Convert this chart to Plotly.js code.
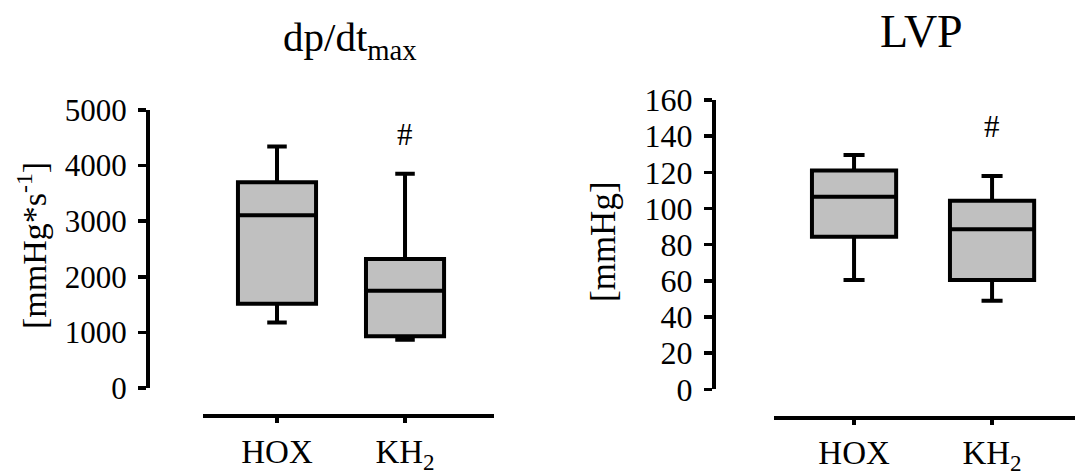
<!DOCTYPE html>
<html>
<head>
<meta charset="utf-8">
<script src="https://cdn.plot.ly/plotly-3.0.1.min.js"></script>
<style>html,body{margin:0;padding:0;background:#fff;}#chart{width:1076px;height:472px;}</style>
</head>
<body>
<div id="chart"></div>
<script>
// Data
var categories = ['HOX', 'KH2'];
var tickLabels = ['HOX', 'KH<sub>2</sub>'];

// dp/dt max [mmHg*s^-1]
var dpdtLower = [1180, 870];
var dpdtQ1 = [1515, 930];
var dpdtMedian = [3105, 1750];
var dpdtQ3 = [3700, 2320];
var dpdtUpper = [4345, 3855];

// LVP [mmHg]
var lvpLower = [60.4, 49];
var lvpQ1 = [84.4, 60.4];
var lvpMedian = [106.5, 88.5];
var lvpQ3 = [121, 104.3];
var lvpUpper = [129.6, 118];

var FONT = 'Liberation Serif';

function boxTrace(lo, q1, med, q3, hi, xa, ya) {
  return {
    type: 'box',
    x: categories,
    lowerfence: lo, q1: q1, median: med, q3: q3, upperfence: hi,
    xaxis: xa, yaxis: ya,
    width: 0.61,
    whiskerwidth: 0.25,
    fillcolor: '#c0c0c0',
    line: {color: '#000', width: 4},
    boxpoints: false,
    hoverinfo: 'skip',
    showlegend: false
  };
}

var data = [
  boxTrace(dpdtLower, dpdtQ1, dpdtMedian, dpdtQ3, dpdtUpper, 'x', 'y'),
  boxTrace(lvpLower, lvpQ1, lvpMedian, lvpQ3, lvpUpper, 'x2', 'y2')
];

function xax(domain, range, pos) {
  return {
    domain: domain, range: range, anchor: 'free', position: pos,
    type: 'category',
    tickvals: categories, ticktext: tickLabels,
    showline: true, linecolor: '#000', linewidth: 4,
    ticks: 'outside', ticklen: 5, tickwidth: 4, tickcolor: '#000',
    ticklabelstandoff: 0,
    tickfont: {family: FONT, size: 33, color: '#000'},
    showgrid: false, zeroline: false, fixedrange: true
  };
}
function yax(domain, range, dtick, pos, fs) {
  return {
    domain: domain, range: range, anchor: 'free', position: pos,
    dtick: dtick, tick0: 0,
    showline: true, linecolor: '#000', linewidth: 4,
    ticks: 'outside', ticklen: 8, tickwidth: 3.5, tickcolor: '#000',
    ticklabelstandoff: 5,
    tickfont: {family: FONT, size: fs, color: '#000'},
    showgrid: false, zeroline: false, fixedrange: true
  };
}

var layout = {
  width: 1076, height: 472,
  margin: {l: 0, r: 0, t: 0, b: 0},
  paper_bgcolor: '#fff', plot_bgcolor: 'rgba(0,0,0,0)',
  showlegend: false,
  font: {family: FONT, color: '#000'},
  xaxis: xax([203/1076, 494/1076], [-0.578, 1.695], 0.1186),
  yaxis: yax([84/472, 362/472], [0, 5000], 1000, 148/1076, 31),
  xaxis2: xax([774/1076, 1075/1076], [-0.58, 1.601], 0.115),
  yaxis2: yax([82.7/472, 372/472], [0, 160], 20, 714/1076, 32),
  annotations: [
    {text: 'dp/dt<sub>max</sub>', xref: 'paper', yref: 'paper', x: 350/1076, y: 1 - 40/472,
     xanchor: 'center', yanchor: 'middle', showarrow: false,
     font: {family: FONT, size: 41, color: '#000'}},
    {text: 'LVP', xref: 'paper', yref: 'paper', x: 921/1076, y: 1 - 31/472,
     xanchor: 'center', yanchor: 'middle', showarrow: false,
     font: {family: FONT, size: 46, color: '#000'}},
    {text: '[mmHg*s<sup>-1</sup>]', xref: 'paper', yref: 'paper', x: 32/1076, y: 1 - 246/472,
     xanchor: 'center', yanchor: 'middle', textangle: -90, showarrow: false,
     font: {family: FONT, size: 34, color: '#000'}},
    {text: '[mmHg]', xref: 'paper', yref: 'paper', x: 603/1076, y: 1 - 241/472,
     xanchor: 'center', yanchor: 'middle', textangle: -90, showarrow: false,
     font: {family: FONT, size: 35, color: '#000'}},
    {text: '#', xref: 'x', yref: 'y', x: 'KH2', y: 4556,
     xanchor: 'center', yanchor: 'middle', showarrow: false,
     font: {family: FONT, size: 31, color: '#000'}},
    {text: '#', xref: 'x2', yref: 'y2', x: 'KH2', y: 145.6,
     xanchor: 'center', yanchor: 'middle', showarrow: false,
     font: {family: FONT, size: 31, color: '#000'}}
  ]
};

Plotly.newPlot('chart', data, layout, {displayModeBar: false, staticPlot: true});
</script>
</body>
</html>
